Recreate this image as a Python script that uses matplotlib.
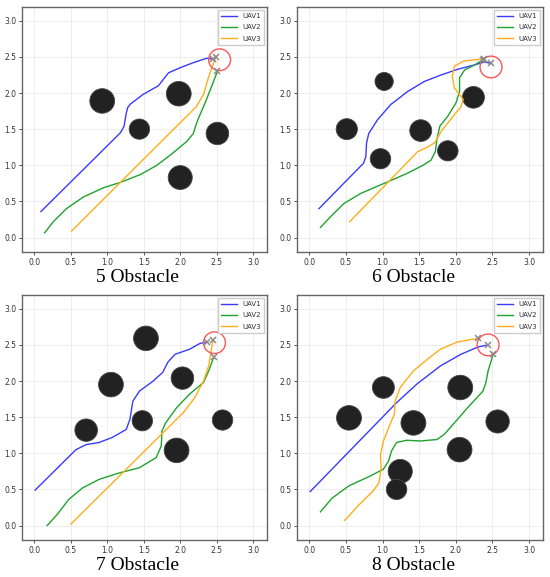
import numpy as np
import matplotlib
matplotlib.use("Agg")
import matplotlib.pyplot as plt
from matplotlib.patches import Circle

# ---- data ----
titles = ["5 Obstacle", "6 Obstacle", "7 Obstacle", "8 Obstacle"]

# obstacles: (x, y, radius)
obs5 = [(0.93, 1.89, 0.17), (1.44, 1.50, 0.14), (1.98, 1.99, 0.17),
        (2.51, 1.44, 0.155), (2.00, 0.83, 0.165)]
obs6 = [(1.02, 2.16, 0.125), (0.51, 1.50, 0.145), (0.97, 1.09, 0.14),
        (1.52, 1.48, 0.15), (1.89, 1.20, 0.14), (2.24, 1.94, 0.15)]
obs7 = [(1.53, 2.59, 0.17), (1.05, 1.95, 0.17), (0.71, 1.32, 0.155),
        (1.48, 1.45, 0.14), (2.03, 2.04, 0.155), (2.58, 1.46, 0.14),
        (1.95, 1.04, 0.17)]
obs8 = [(1.01, 1.91, 0.15), (0.54, 1.49, 0.17), (1.42, 1.42, 0.17),
        (2.06, 1.91, 0.17), (2.57, 1.44, 0.16), (2.05, 1.05, 0.17),
        (1.24, 0.75, 0.165), (1.19, 0.50, 0.14)]

# target (x, y, radius)
goal5 = (2.54, 2.46, 0.15)
goal6 = (2.48, 2.36, 0.15)
goal7 = (2.47, 2.53, 0.15)
goal8 = (2.44, 2.50, 0.15)

# UAV paths
uav1_5 = [(0.09, 0.36), (1.18, 1.45), (1.23, 1.54), (1.26, 1.72), (1.28, 1.80),
          (1.32, 1.85), (1.49, 1.98), (1.70, 2.10), (1.77, 2.19), (1.84, 2.28),
          (2.00, 2.35), (2.18, 2.42), (2.36, 2.48), (2.45, 2.47)]
uav2_5 = [(0.14, 0.065), (0.26, 0.22), (0.44, 0.40), (0.67, 0.56), (0.95, 0.69),
          (1.17, 0.76), (1.45, 0.87), (1.68, 1.00), (1.90, 1.17), (2.09, 1.33),
          (2.18, 1.44), (2.21, 1.54), (2.25, 1.65), (2.34, 1.86), (2.43, 2.09),
          (2.51, 2.30)]
uav3_5 = [(0.51, 0.09), (2.22, 1.81), (2.32, 1.98), (2.38, 2.19), (2.44, 2.37),
          (2.49, 2.50)]

uav1_6 = [(0.13, 0.40), (0.74, 1.03), (0.77, 1.12), (0.78, 1.31), (0.81, 1.44),
          (0.93, 1.63), (1.11, 1.84), (1.34, 2.02), (1.57, 2.16), (1.80, 2.25),
          (2.03, 2.33), (2.26, 2.39), (2.39, 2.43), (2.48, 2.41)]
uav2_6 = [(0.15, 0.14), (0.29, 0.29), (0.47, 0.47), (0.70, 0.61), (1.02, 0.75),
          (1.34, 0.89), (1.55, 1.00), (1.66, 1.07), (1.72, 1.19), (1.74, 1.35),
          (1.78, 1.54), (1.89, 1.68), (2.00, 1.86), (2.05, 2.02), (2.05, 2.21),
          (2.12, 2.32), (2.26, 2.39), (2.37, 2.46)]
uav3_6 = [(0.55, 0.22), (1.48, 1.19), (1.59, 1.24), (1.71, 1.31), (1.80, 1.47),
          (1.94, 1.65), (2.07, 1.81), (2.10, 1.91), (2.05, 1.98), (1.98, 2.07),
          (1.95, 2.23), (1.98, 2.37), (2.10, 2.44), (2.26, 2.46), (2.39, 2.47)]

uav1_7 = [(0.01, 0.49), (0.57, 1.05), (0.71, 1.12), (0.89, 1.15), (1.07, 1.22),
          (1.26, 1.33), (1.31, 1.47), (1.35, 1.72), (1.44, 1.86), (1.63, 2.00),
          (1.76, 2.12), (1.83, 2.26), (1.93, 2.37), (2.13, 2.44), (2.27, 2.52),
          (2.37, 2.54)]
uav2_7 = [(0.175, 0.0), (0.31, 0.15), (0.47, 0.36), (0.66, 0.52), (0.89, 0.64),
          (1.17, 0.73), (1.44, 0.80), (1.67, 0.94), (1.74, 1.10), (1.75, 1.31),
          (1.80, 1.42), (1.95, 1.63), (2.13, 1.82), (2.32, 1.98), (2.39, 2.14),
          (2.46, 2.33)]
uav3_7 = [(0.50, 0.02), (2.04, 1.56), (2.20, 1.77), (2.32, 2.00), (2.39, 2.21),
          (2.42, 2.39), (2.45, 2.57)]

uav1_8 = [(0.01, 0.47), (1.19, 1.70), (1.47, 1.96), (1.79, 2.21), (2.07, 2.37),
          (2.30, 2.47), (2.44, 2.50)]
uav2_8 = [(0.15, 0.19), (0.31, 0.38), (0.54, 0.55), (0.82, 0.68), (1.01, 0.78),
          (1.08, 0.89), (1.12, 1.03), (1.19, 1.15), (1.33, 1.18), (1.51, 1.17),
          (1.74, 1.19), (1.84, 1.26), (1.98, 1.42), (2.16, 1.63), (2.37, 1.86),
          (2.41, 1.98), (2.44, 2.14), (2.51, 2.37)]
uav3_8 = [(0.48, 0.07), (0.68, 0.29), (0.87, 0.48), (0.95, 0.59), (0.98, 0.80),
          (0.97, 0.98), (1.01, 1.17), (1.10, 1.40), (1.16, 1.54), (1.17, 1.72),
          (1.24, 1.91), (1.42, 2.14), (1.61, 2.30), (1.79, 2.44), (2.02, 2.54),
          (2.30, 2.59)]

obstacles = [obs5, obs6, obs7, obs8]
goals = [goal5, goal6, goal7, goal8]
paths = [(uav1_5, uav2_5, uav3_5), (uav1_6, uav2_6, uav3_6),
         (uav1_7, uav2_7, uav3_7), (uav1_8, uav2_8, uav3_8)]

uav_names = ["UAV1", "UAV2", "UAV3"]
uav_colors = ["#3a3aff", "#1fa32e", "#ffae1a"]
ticks = [0.0, 0.5, 1.0, 1.5, 2.0, 2.5, 3.0]

# ---- figure ----
fig = plt.figure(figsize=(5.5, 5.77), dpi=100)
W, H = 550, 577
# axes boxes in pixels: left, top, right, bottom
boxes = [(22, 7, 267, 252), (297, 7, 543, 252),
         (22, 295, 267, 540), (297, 295, 543, 540)]
title_y = [278, 278, 566, 566]

for k in range(4):
    l, t, r, b = boxes[k]
    ax = fig.add_axes([l / W, 1 - b / H, (r - l) / W, (b - t) / H])
    ax.set_xlim(-0.17, 3.19)
    ax.set_ylim(-0.2, 3.19)
    ax.set_xticks(ticks)
    ax.set_yticks(ticks)
    ax.tick_params(labelsize=5.5, colors="#333333", length=2, width=0.6,
                   pad=2)
    ax.grid(True, color="#e8e8e8", linewidth=0.5)
    ax.set_axisbelow(True)
    for s in ax.spines.values():
        s.set_color("#666666")
        s.set_linewidth(1.0)

    for (ox, oy, orad) in obstacles[k]:
        ax.add_patch(Circle((ox, oy), orad, facecolor="#222222",
                            edgecolor="#444444", linewidth=0.6, zorder=2))

    gx, gy, gr = goals[k]
    ax.add_patch(Circle((gx, gy), gr, facecolor="none", edgecolor="#ff5555",
                        linewidth=1.0, zorder=4))

    for name, col, pts in zip(uav_names, uav_colors, paths[k]):
        xs = [p[0] for p in pts]
        ys = [p[1] for p in pts]
        ax.plot(xs, ys, color=col, linewidth=1.0, label=name, zorder=3)
    for pts in paths[k]:
        ax.plot(pts[-1][0], pts[-1][1], marker="x", color="#8a8a8a",
                markersize=5, markeredgewidth=1.1, zorder=5)

    leg = ax.legend(loc="upper right", fontsize=5, handlelength=2.2,
                    handletextpad=0.8, borderpad=0.5, labelspacing=0.75,
                    framealpha=1, edgecolor="#cccccc", fancybox=False,
                    borderaxespad=0.4)
    for txt in leg.get_texts():
        txt.set_color("#333333")

    fig.text((l + r) / 2 / W - 0.012, 1 - title_y[k] / H, titles[k],
             ha="center", va="center", fontsize=14,
             family="Liberation Serif")

fig.savefig("out.png", dpi=100)
